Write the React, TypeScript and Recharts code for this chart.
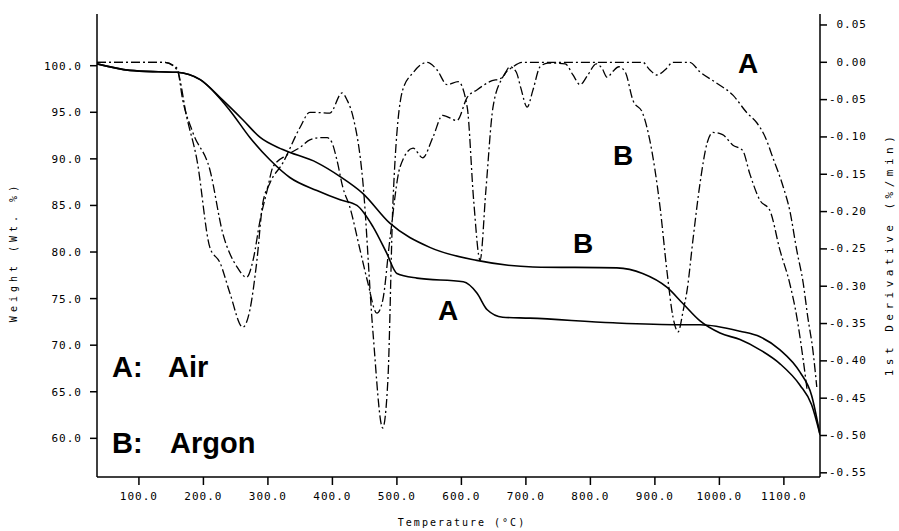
import { LineChart, Line, XAxis, YAxis } from "recharts";

// TG curve, air (A)
const airTgTemp = [35, 86, 130, 159, 195, 241, 272, 303, 334, 376, 412, 438, 463, 484, 500, 531, 603, 624, 640, 664, 706, 835, 939, 970, 1032, 1063, 1094, 1125, 1143, 1156];
const airTgWeight = [100.2, 99.5, 99.35, 99.3, 98.5, 95.2, 92.3, 89.9, 88.0, 86.6, 85.6, 85.0, 82.7, 79.9, 77.7, 77.2, 76.8, 75.6, 73.8, 73.0, 72.9, 72.4, 72.2, 72.2, 71.5, 70.9, 69.5, 67.1, 64.6, 60.4];

// TG curve, argon (B)
const argonTgTemp = [35, 86, 130, 159, 195, 230, 261, 288, 323, 376, 412, 447, 489, 551, 624, 711, 841, 881, 919, 943, 970, 1001, 1032, 1063, 1094, 1125, 1143, 1156];
const argonTgWeight = [100.2, 99.5, 99.35, 99.3, 98.5, 96.3, 94.2, 92.3, 91.0, 89.6, 88.1, 86.3, 83.1, 80.5, 79.1, 78.4, 78.3, 77.7, 76.2, 74.5, 72.6, 71.3, 70.6, 69.5, 68.0, 65.7, 63.6, 60.4];

// 1st derivative, air (A)
const airDtgTemp = [35, 140, 159, 174, 190, 210, 226, 241, 261, 272, 283, 292, 303, 323, 350, 365, 396, 415, 423, 432, 447, 463, 478, 486, 494, 509, 525, 547, 562, 578, 595, 609, 619, 629, 638, 649, 664, 680, 695, 881, 892, 903, 916, 928, 954, 970, 996, 1021, 1043, 1058, 1071, 1083, 1099, 1109, 1120, 1130, 1137, 1145, 1151];
const airDtg = [0, 0, -0.010, -0.073, -0.131, -0.248, -0.269, -0.309, -0.355, -0.332, -0.265, -0.189, -0.162, -0.135, -0.087, -0.067, -0.068, -0.041, -0.051, -0.073, -0.158, -0.363, -0.490, -0.426, -0.185, -0.037, -0.014, 0, -0.010, -0.030, -0.026, -0.060, -0.185, -0.265, -0.171, -0.060, -0.020, -0.006, 0, 0, -0.010, -0.017, -0.010, 0, 0, -0.013, -0.028, -0.044, -0.068, -0.081, -0.100, -0.128, -0.167, -0.198, -0.252, -0.296, -0.341, -0.386, -0.435];

// 1st derivative, argon (B)
const argonDtgTemp = [35, 140, 159, 168, 184, 210, 230, 252, 267, 277, 288, 299, 308, 330, 350, 365, 381, 392, 399, 407, 416, 427, 443, 454, 469, 478, 489, 505, 525, 540, 556, 571, 593, 609, 624, 644, 664, 675, 685, 692, 702, 711, 722, 734, 761, 773, 784, 796, 809, 818, 826, 835, 844, 854, 866, 881, 892, 908, 919, 928, 936, 944, 950, 959, 970, 981, 990, 1005, 1021, 1036, 1047, 1063, 1078, 1094, 1109, 1120, 1130, 1136];
const argonDtg = [0, 0, -0.008, -0.051, -0.095, -0.144, -0.229, -0.274, -0.288, -0.265, -0.211, -0.171, -0.140, -0.124, -0.114, -0.104, -0.101, -0.101, -0.107, -0.131, -0.167, -0.194, -0.252, -0.292, -0.336, -0.319, -0.238, -0.140, -0.115, -0.128, -0.100, -0.071, -0.078, -0.047, -0.037, -0.026, -0.020, -0.006, -0.013, -0.034, -0.060, -0.037, -0.006, -0.001, -0.002, -0.017, -0.030, -0.017, -0.002, -0.008, -0.020, -0.012, -0.006, -0.013, -0.051, -0.068, -0.104, -0.194, -0.282, -0.341, -0.361, -0.332, -0.305, -0.238, -0.162, -0.108, -0.094, -0.097, -0.111, -0.118, -0.149, -0.185, -0.198, -0.252, -0.296, -0.341, -0.399, -0.439];

const tempTicks = [100, 200, 300, 400, 500, 600, 700, 800, 900, 1000, 1100];
const weightTicks = [60, 65, 70, 75, 80, 85, 90, 95, 100];
const derivTicks = [-0.55, -0.5, -0.45, -0.4, -0.35, -0.3, -0.25, -0.2, -0.15, -0.1, -0.05, 0, 0.05];

const airTg = airTgTemp.map((t, i) => ({ t, w: airTgWeight[i] }));
const argonTg = argonTgTemp.map((t, i) => ({ t, w: argonTgWeight[i] }));
const airD = airDtgTemp.map((t, i) => ({ t, d: airDtg[i] }));
const argonD = argonDtgTemp.map((t, i) => ({ t, d: argonDtg[i] }));

const mono = "'DejaVu Sans Mono', monospace";
const tickStyle = { fontSize: 11, fill: "#000", fontFamily: mono, letterSpacing: 1 };
const dashDot = "9 3 2 3";

function RightTick(props: any) {
  const { x, y, payload } = props;
  return (
    <text x={x + 38} y={y} textAnchor="end" dominantBaseline="central" {...tickStyle}>
      {payload.value.toFixed(2)}
    </text>
  );
}

export default function App() {
  const big = { fontFamily: "'Liberation Sans', Arial, sans-serif", fontWeight: 700, fill: "#000" };
  return (
    <div style={{ position: "absolute", left: 0, top: 0, width: 899, height: 531, background: "#fff" }}>
      <LineChart width={899} height={531} margin={{ top: 14, right: 0, bottom: 0, left: 0 }}>
        <XAxis
          xAxisId="x"
          dataKey="t"
          type="number"
          domain={[35, 1156]}
          ticks={tempTicks}
          allowDataOverflow
          height={54}
          tickSize={8}
          tickMargin={7}
          stroke="#000"
          strokeWidth={1.5}
          tick={tickStyle}
          tickFormatter={(v) => v.toFixed(1)}
        />
        <XAxis
          xAxisId="top"
          orientation="top"
          type="number"
          domain={[35, 1156]}
          height={0}
          tick={false}
          tickLine={false}
          stroke="#000"
          strokeWidth={1.5}
        />
        <YAxis
          yAxisId="w"
          type="number"
          domain={[55.85, 105.55]}
          ticks={weightTicks}
          allowDataOverflow
          width={97}
          tickSize={7}
          tickMargin={8}
          stroke="#000"
          strokeWidth={1.5}
          tick={tickStyle}
          tickFormatter={(v) => v.toFixed(1)}
        />
        <YAxis
          yAxisId="d"
          orientation="right"
          type="number"
          domain={[-0.5556, 0.0647]}
          ticks={derivTicks}
          allowDataOverflow
          width={79}
          tickSize={7}
          stroke="#000"
          strokeWidth={1.5}
          tick={<RightTick />}
        />
        <Line xAxisId="x" yAxisId="w" data={airTg} dataKey="w" type="monotone" stroke="#000" strokeWidth={1.6} dot={false} isAnimationActive={false} />
        <Line xAxisId="x" yAxisId="w" data={argonTg} dataKey="w" type="monotone" stroke="#000" strokeWidth={1.6} dot={false} isAnimationActive={false} />
        <Line xAxisId="x" yAxisId="d" data={airD} dataKey="d" type="monotone" stroke="#000" strokeWidth={1.3} strokeDasharray={dashDot} dot={false} isAnimationActive={false} />
        <Line xAxisId="x" yAxisId="d" data={argonD} dataKey="d" type="monotone" stroke="#000" strokeWidth={1.3} strokeDasharray={dashDot} dot={false} isAnimationActive={false} />
      </LineChart>
      <svg width={899} height={531} style={{ position: "absolute", left: 0, top: 0, pointerEvents: "none" }}>
        <text transform="translate(13,252) rotate(-90)" textAnchor="middle" dominantBaseline="central" fontSize={10} fontFamily={mono} letterSpacing={4}>
          Weight (Wt. %)
        </text>
        <text transform="translate(889,254) rotate(-90)" textAnchor="middle" dominantBaseline="central" fontSize={11} fontFamily={mono} letterSpacing={4.5}>
          1st Derivative (%/min)
        </text>
        <text x={462} y={522} textAnchor="middle" dominantBaseline="central" fontSize={10} fontFamily={mono} letterSpacing={2}>
          Temperature (°C)
        </text>
        <text x={112} y={377} fontSize={29} {...big}>A:</text>
        <text x={168} y={377} fontSize={29} {...big}>Air</text>
        <text x={112} y={453} fontSize={29} {...big}>B:</text>
        <text x={170} y={453} fontSize={29} {...big}>Argon</text>
        <text x={738} y={73} fontSize={28} {...big}>A</text>
        <text x={613} y={165} fontSize={28} {...big}>B</text>
        <text x={573} y={253} fontSize={28} {...big}>B</text>
        <text x={438} y={320} fontSize={28} {...big}>A</text>
      </svg>
    </div>
  );
}
